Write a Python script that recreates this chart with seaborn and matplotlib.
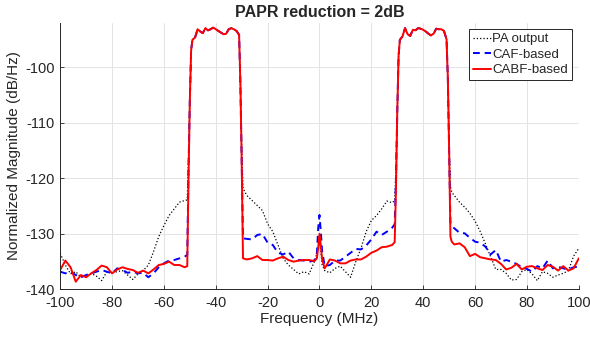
import matplotlib
matplotlib.use("Agg")
import matplotlib.pyplot as plt
import seaborn as sns
import pandas as pd

freq = [-100, -98, -96, -94, -92, -90, -88, -86, -84, -82, -80, -78, -76, -74, -72, -70,
        -68, -66, -64, -62, -60, -58, -56, -54, -52, -51, -50.5, -50, -49.5,
        -49, -48, -47, -46, -45, -44, -43, -42, -41, -40, -39, -38, -37, -36, -35, -34, -33, -32, -31,
        -30.5, -30, -29.5,
        -28, -26, -24, -22, -20, -18, -16, -14, -12, -10, -8, -6, -4, -2, -1, -0.5, 0, 0.5, 1,
        2, 4, 6, 8, 10, 12, 14, 16, 18, 20, 22, 24, 26, 28, 29, 29.5, 30, 30.5,
        31, 32, 33, 34, 35, 36, 37, 38, 39, 40, 41, 42, 43, 44, 45, 46, 47, 48, 49,
        49.5, 50, 50.5, 51,
        52, 54, 56, 58, 60, 62, 64, 66, 68, 70, 72, 74, 76, 78, 80, 82, 84, 86, 88, 90,
        92, 94, 96, 98, 100]

band_left = [-95.1, -94.7, -93.2, -93.6, -93.9, -93.0, -93.4, -93.2, -92.9, -93.2,
             -93.5, -93.8, -94.1, -94.0, -93.2, -93.0, -93.2, -93.5, -94.2]
band_right = [-95.1, -94.5, -93.0, -94.1, -94.4, -93.3, -93.4, -93.0, -93.1, -93.3,
              -93.6, -94.0, -94.3, -94.0, -93.1, -93.2, -93.2, -93.5, -95.0]

pa_output = ([-133.5, -135.6, -137.2, -136.8, -137.8, -137.6, -137.1, -137.6, -138.4, -136.8,
              -137.0, -136.8, -136.6, -137.4, -138.2, -137.2, -136.6, -135.6, -133.2, -130.5,
              -128.5, -126.7, -125.5, -124.3, -124.0, -123.9, -116, -106, -97]
             + band_left
             + [-103, -114, -121.8,
                -123.1, -124.0, -124.9, -125.8, -128.2, -129.6, -132.0, -134.4, -135.6, -136.4,
                -137.2, -136.8, -137.2, -135.0, -133.5, -132.5, -131.5, -133.0, -135.5,
                -136.6, -137.0, -136.2, -135.8, -136.8, -137.8, -135.0, -132.6, -129.6, -127.6,
                -126.7, -125.5, -124.1, -124.4, -124.0, -118, -108, -98]
             + band_right
             + [-102, -114, -121.5, -122.5,
                -123.1, -124.3, -125.2, -126.3, -127.7, -129.6, -131.8, -134.1, -136.4, -136.4,
                -137.1, -138.3, -138.2, -136.8, -136.4, -137.2, -138.4, -136.8, -137.1, -137.8,
                -137.4, -137.1, -136.6, -134.0, -132.6])

caf_based = ([-136.8, -137.1, -136.8, -137.4, -137.8, -137.4, -137.1, -136.8, -136.5, -136.8,
              -137.1, -136.2, -136.5, -137.0, -136.8, -137.1, -137.0, -137.8, -137.1, -136.0,
              -135.3, -134.8, -134.7, -134.4, -134.1, -133.8, -118, -106, -97]
             + band_left
             + [-103, -117, -130.8,
                -130.9, -131.0, -130.2, -130.0, -131.6, -132.0, -133.4, -133.7, -133.2, -134.4,
                -134.7, -134.8, -135.0, -134.8, -133.5, -129.0, -126.6, -129.5, -133.0,
                -135.8, -135.6, -134.8, -134.8, -134.1, -133.4, -132.7, -132.8, -132.1, -131.0,
                -129.6, -130.2, -129.6, -128.9, -128.3, -120, -108, -98]
             + band_right
             + [-102, -115, -128.0, -128.6,
                -129.0, -129.8, -129.9, -130.7, -131.4, -131.6, -132.3, -133.7, -132.9, -135.0,
                -134.7, -135.0, -135.4, -136.0, -136.3, -136.8, -135.8, -136.2, -134.8, -136.2,
                -135.9, -136.2, -136.4, -136.0, -135.9])

cabf_based = ([-136.5, -134.8, -136.0, -138.6, -137.4, -137.8, -137.1, -136.5, -135.7, -136.0,
               -137.1, -136.4, -136.0, -136.3, -136.5, -137.0, -136.6, -137.1, -136.4, -135.6,
               -135.4, -135.0, -135.6, -135.6, -136.0, -135.8, -120, -106, -97]
              + band_left
              + [-103, -117, -134.4,
                 -134.6, -134.4, -134.0, -134.7, -134.7, -134.8, -134.4, -134.1, -134.7, -135.0,
                 -134.8, -134.7, -134.7, -134.9, -134.4, -132.5, -130.0, -132.0, -134.5,
                 -136.2, -134.6, -134.8, -135.3, -135.3, -134.8, -134.6, -134.6, -134.1, -133.4,
                 -133.0, -132.4, -132.3, -132.0, -131.5, -122, -108, -98]
              + band_right
              + [-102, -115, -130.5, -131.4,
                 -131.9, -131.7, -132.4, -134.0, -133.6, -134.2, -134.4, -134.6, -134.7, -135.4,
                 -136.4, -136.1, -135.4, -136.4, -135.9, -135.8, -136.2, -136.5, -135.6, -135.9,
                 -136.6, -135.8, -136.6, -136.2, -134.4])

series_names = ["PA output", "CAF-based", "CABF-based"]
x_ticks = [-100, -80, -60, -40, -20, 0, 20, 40, 60, 80, 100]
y_ticks = [-140, -130, -120, -110, -100]

sns.set_style("whitegrid")
plt.rcParams["font.family"] = ["Liberation Sans", "DejaVu Sans"]
plt.rcParams["axes.unicode_minus"] = False

fig = plt.figure(figsize=(5.9, 3.37), dpi=100)
ax = fig.add_axes([0.102, 0.141, 0.879, 0.792])

df = pd.DataFrame({"f": freq, "PA output": pa_output,
                   "CAF-based": caf_based, "CABF-based": cabf_based})

styles = {"PA output": dict(color="black", linestyle=":", linewidth=0.9),
          "CAF-based": dict(color="#0000ff", linestyle=(0, (3.5, 2.5)), linewidth=1.4),
          "CABF-based": dict(color="#ff0000", linestyle="-", linewidth=1.4)}

for name in series_names:
    sns.lineplot(data=df, x="f", y=name, ax=ax, estimator=None, sort=False,
                 label=name, **styles[name])

ax.set_xlim(-100, 100)
ax.set_ylim(-140, -92)
ax.set_xticks(x_ticks)
ax.set_yticks(y_ticks)
ax.set_xticklabels([str(t) for t in x_ticks])
ax.set_yticklabels([str(t) for t in y_ticks])
ax.grid(True, color="#e3e3e3", linewidth=0.7)
for side in ["top", "right"]:
    ax.spines[side].set_visible(False)
for side in ["left", "bottom"]:
    ax.spines[side].set_visible(True)
    ax.spines[side].set_color("#262626")
    ax.spines[side].set_linewidth(0.7)
ax.tick_params(axis="both", direction="in", length=3, width=0.6, colors="#262626",
               labelsize=10.5, labelcolor="#262626")
ax.tick_params(axis="x", pad=5)
ax.tick_params(axis="y", pad=4)
ax.tick_params(axis="both", which="both", bottom=True, left=True)

ax.set_xlabel("Frequency (MHz)", fontsize=11, color="#262626", labelpad=1)
ax.set_ylabel("Normalized Magnitude (dB/Hz)", fontsize=11, color="#262626", labelpad=3)
ax.set_title("PAPR reduction = 2dB", fontsize=11.5, fontweight="bold", pad=4)

leg = ax.legend(loc="upper right", frameon=True, fancybox=False, fontsize=9.5,
                handlelength=1.3, handletextpad=0.15, borderpad=0.3, labelspacing=0.25,
                borderaxespad=0.5)
leg.get_frame().set_edgecolor("#262626")
leg.get_frame().set_linewidth(0.7)
leg.get_frame().set_alpha(1)

fig.savefig("out.png", dpi=100)
